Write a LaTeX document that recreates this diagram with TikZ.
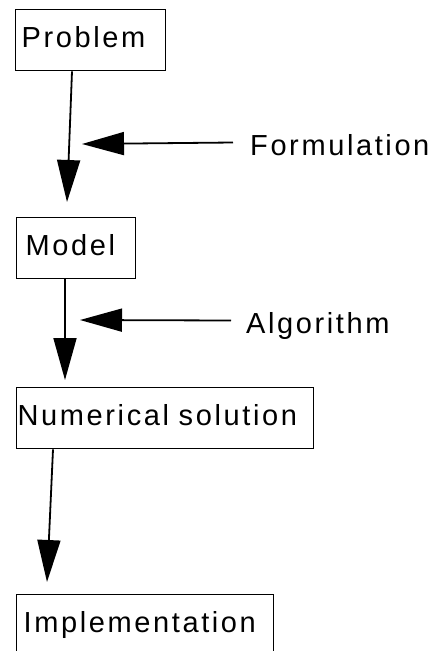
\documentclass[tikz,border=0pt]{standalone}
\usepackage{fontspec}
\setmainfont{Liberation Sans}[LetterSpace=9]
\usetikzlibrary{arrows.meta,calc}
\tikzset{
  box/.style={draw, line width=1.4pt, anchor=north west, minimum height=61pt,
    inner ysep=0pt, align=left, text height=24pt, text depth=10pt,
    font=\fontsize{29pt}{32pt}\selectfont},
  lbl/.style={anchor=base west, inner sep=0pt, text height=25pt, text depth=0pt,
    font=\fontsize{29pt}{32pt}\selectfont},
  arr/.style={line width=1.8pt, -{Triangle[length=42pt,width=23pt]}},
}
\begin{document}
\begin{tikzpicture}[x=1pt,y=-1pt]
\useasboundingbox (0,0) rectangle (435,651);
\clip (0,0) rectangle (435,651);
\node[box, text width=138pt, inner xsep=6pt] (prob) at (15,9) {Problem};
\node[box, text width=101pt, inner xsep=9pt] (model) at (16,217) {Model};
\node[box, text width=295pt, inner xsep=1pt] (num) at (16,387) {Numerical solution};
\node[box, text width=243pt, inner xsep=7pt] (impl) at (16,594) {Implementation};
\node[lbl] (form) at (250,155) {Formulation};
\node[lbl] (alg) at (246,333) {Algorithm};
\coordinate (f1) at (82,144);
\coordinate (a1) at (80,320);
\draw[arr] ($(prob.south west)+(57,0)$) -- ($(model.north west)+(51,-15)$);
\draw[arr] ($(model.south west)+(49,0)$) -- ($(num.north west)+(49,-7)$);
\draw[arr] ($(num.south west)+(37,0)$) -- ($(impl.north west)+(31,-12)$);
\draw[arr] ($(form.west)+(-17,0)$) -- (f1);
\draw[arr] ($(alg.west)+(-15,0)$) -- (a1);
\end{tikzpicture}
\end{document}
